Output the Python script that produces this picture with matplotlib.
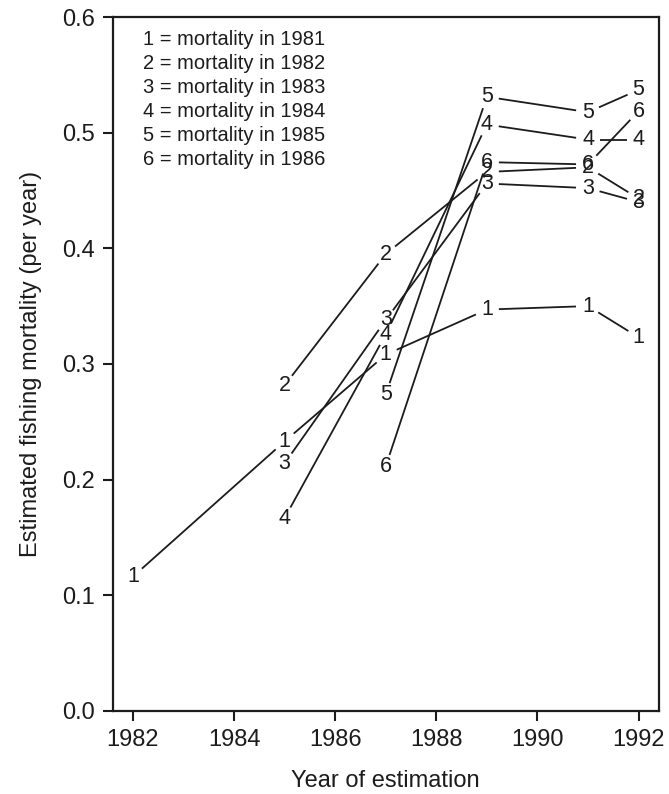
import numpy as np
import matplotlib
matplotlib.use("Agg")
import matplotlib.pyplot as plt

plt.rcParams['font.family'] = ['Liberation Sans', 'DejaVu Sans']

# Data: estimated fishing mortality, labelled by the year it refers to
series_labels = ["1", "2", "3", "4", "5", "6"]
legend_texts = ["1 = mortality in 1981", "2 = mortality in 1982", "3 = mortality in 1983",
                "4 = mortality in 1984", "5 = mortality in 1985", "6 = mortality in 1986"]

years_1 = [1982, 1985, 1987, 1989, 1991, 1992]
mort_1 = [0.116, 0.233, 0.308, 0.347, 0.350, 0.323]
years_2 = [1985, 1987, 1989, 1991, 1992]
mort_2 = [0.2815, 0.395, 0.466, 0.470, 0.443]
years_3 = [1985, 1987, 1989, 1991, 1992]
mort_3 = [0.214, 0.338, 0.456, 0.452, 0.440]
years_4 = [1985, 1987, 1989, 1991, 1992]
mort_4 = [0.1667, 0.3255, 0.507, 0.494, 0.494]
years_5 = [1987, 1989, 1991, 1992]
mort_5 = [0.2735, 0.531, 0.5177, 0.537]
years_6 = [1987, 1989, 1991, 1992]
mort_6 = [0.2114, 0.4745, 0.4725, 0.5186]

xticks = [1982, 1984, 1986, 1988, 1990, 1992]
yticks = [0.0, 0.1, 0.2, 0.3, 0.4, 0.5, 0.6]

all_years = [years_1, years_2, years_3, years_4, years_5, years_6]
all_mort = [mort_1, mort_2, mort_3, mort_4, mort_5, mort_6]

W, H = 669, 794
fig = plt.figure(figsize=(W / 100, H / 100), dpi=100)
L, R, T, B = 112.7, 658.8, 17.0, 710.8
ax = fig.add_axes([L / W, 1 - B / H, (R - L) / W, (B - T) / H])

ax.set_xlim(1981.6, 1992.4)
ax.set_ylim(0.0, 0.6)
ax.set_xticks(xticks)
ax.set_xticklabels([str(x) for x in xticks])
ax.set_yticks(yticks)
ax.set_yticklabels([f"{y:.1f}" for y in yticks])

ink = "#1c1c1c"
for s in ax.spines.values():
    s.set_linewidth(1.6)
    s.set_color(ink)
ax.tick_params(direction="out", length=7, width=1.5, colors=ink,
               labelsize=17, pad=6)

ax.set_xlabel("Year of estimation", fontsize=17, color=ink, labelpad=14)
ax.set_ylabel("Estimated fishing mortality (per year)", fontsize=17, color=ink, labelpad=14)

gap = 12.0  # pixel gap around each numeric label (R type="b")
fig.canvas.draw()
tr = ax.transData
inv = tr.inverted()
for lab, xs, ys in zip(series_labels, all_years, all_mort):
    pts = tr.transform(np.column_stack([xs, ys]))
    for i in range(len(xs) - 1):
        p0, p1 = pts[i], pts[i + 1]
        d = p1 - p0
        n = np.hypot(*d)
        if n <= 2 * gap:
            continue
        u = d / n
        q = inv.transform(np.array([p0 + u * gap, p1 - u * gap]))
        ax.plot(q[:, 0], q[:, 1], color=ink, lw=1.3, solid_capstyle="butt")
    for x, y in zip(xs, ys):
        ax.text(x, y, lab, ha="center", va="center", fontsize=15.5, color=ink)

for i, t in enumerate(legend_texts):
    ax.text(0.0555, 0.967 - i * 0.0346, t, transform=ax.transAxes,
            ha="left", va="center", fontsize=14.5, color=ink)

fig.savefig("out.png", dpi=100)
